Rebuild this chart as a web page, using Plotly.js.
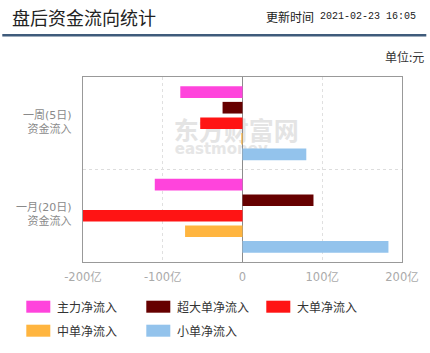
<!DOCTYPE html>
<html>
<head>
<meta charset="utf-8">
<script src="https://cdn.plot.ly/plotly-3.0.1.min.js"></script>
<style>html,body{margin:0;padding:0;background:#fff;}#chart{width:430px;height:353px;}</style>
</head>
<body>
<div id="chart"></div>
<script>
// ---- data ----
var categories = ["一周(5日)", "一月(20日)"];
var categorySub = ["资金流入", "资金流入"];
var seriesNames = ["主力净流入", "超大单净流入", "大单净流入", "中单净流入", "小单净流入"];
var seriesColors = ["#ff44dc", "#660000", "#ff1414", "#ffb53f", "#93c3ec"];
var mainNet   = [-78, -110];
var superNet  = [-25, 89];
var largeNet  = [-53, -200];
var mediumNet = [-1.5, -72];
var smallNet  = [80, 183];
var xTickVals = [-200, -100, 0, 100, 200];
var xTickText = ["-200亿", "-100亿", "0", "100亿", "200亿"];
var titleText = "盘后资金流向统计";
var updateLabel = "更新时间";
var updateTime = "2021-02-23 16:05";
var unitText = "单位:元";
var watermarkCn = "东方财富网";
var watermarkEn = "eastmoney";

var seriesValues = [mainNet, superNet, largeNet, mediumNet, smallNet];

// ---- layout helpers (pixel -> paper) ----
var L = 82.7, R = 401.7, T = 77.3, B = 262.3;
function px(x){ return (x - L) / (R - L); }
function py(y){ return (B - y) / (B - T); }

var traces = seriesNames.map(function(n, i){
  return {
    type: 'bar', orientation: 'h', name: n,
    y: categories, x: seriesValues[i],
    marker: {color: seriesColors[i], line: {width: 0}},
    hoverinfo: 'x+name', showlegend: false
  };
});

var cjk = "'Noto Sans CJK SC', sans-serif";
var mixed = "'DejaVu Sans', 'Noto Sans CJK SC', sans-serif";

var annotations = [
  {text: titleText, xref:'paper', yref:'paper', x: px(10), y: py(17), xanchor:'left', yanchor:'middle', showarrow:false, font:{family:cjk, size:18, color:'#222'}},
  {text: updateLabel, xref:'paper', yref:'paper', x: px(264), y: py(17), xanchor:'left', yanchor:'middle', showarrow:false, font:{family:cjk, size:12, color:'#222'}},
  {text: updateTime, xref:'paper', yref:'paper', x: px(318), y: py(17), xanchor:'left', yanchor:'middle', showarrow:false, font:{family:"'Liberation Mono', monospace", size:10, color:'#222'}},
  {text: unitText, xref:'paper', yref:'paper', x: px(426), y: py(57), xanchor:'right', yanchor:'middle', showarrow:false, font:{family:cjk, size:12, color:'#333'}}
];
categories.forEach(function(c, i){
  annotations.push({text: c + '<br>' + categorySub[i], xref:'paper', yref:'y', x: px(74), y: c, yshift: 1, xanchor:'right', yanchor:'middle', align:'right', showarrow:false, font:{family:mixed, size:11, color:'#8a8a8a'}});
});

var shapes = [
  {type:'line', xref:'paper', yref:'paper', x0: px(2), x1: px(426), y0: py(35.5), y1: py(35.5), line:{color:'#3f5b7b', width:2.5}},
  {type:'line', xref:'paper', yref:'y', x0: 0, x1: 1, y0: 0.5, y1: 0.5, layer:'below', line:{color:'#dddddd', width:1, dash:'dot'}},
  {type:'rect', xref:'x', yref:'paper', x0: (172-241.3)/0.7975, x1: (298-241.3)/0.7975, y0: py(146), y1: py(120), layer:'below', line:{width:0}, fillcolor:'rgba(0,0,0,0)',
    label:{text: watermarkCn, textposition:'middle center', font:{family:cjk, size:25, color:'#e4e4e4', weight:'bold'}}},
  {type:'rect', xref:'x', yref:'paper', x0: (172-241.3)/0.7975, x1: (268-241.3)/0.7975, y0: py(156), y1: py(140), layer:'below', line:{width:0}, fillcolor:'rgba(0,0,0,0)',
    label:{text: watermarkEn, textposition:'middle center', font:{family:"'DejaVu Sans', sans-serif", size:15, color:'#e6e6e6', weight:'bold'}}}
];

// custom legend
var colX = [26, 146, 266];
var rowY = [307, 331];
seriesNames.forEach(function(n, i){
  var cx = colX[i % 3], cy = rowY[Math.floor(i / 3)];
  shapes.push({type:'rect', xref:'paper', yref:'paper', x0: px(cx), x1: px(cx + 24), y0: py(cy + 6), y1: py(cy - 6), line:{width:0}, fillcolor: seriesColors[i]});
  annotations.push({text: n, xref:'paper', yref:'paper', x: px(cx + 29), y: py(cy), xanchor:'left', yanchor:'middle', showarrow:false, font:{family:cjk, size:12, color:'#333'}});
});

var layout = {
  width: 430, height: 353,
  margin: {l: L, r: 430 - R, t: T, b: 353 - B, pad: 0},
  paper_bgcolor: '#fff', plot_bgcolor: 'rgba(0,0,0,0)',
  barmode: 'group', bargap: 0.16, bargroupgap: 0.25,
  showlegend: false,
  xaxis: {range: [-200, 200], tickvals: xTickVals, ticktext: xTickText, showgrid: true, gridcolor: '#e0e0e0', griddash: 'dot',
          zeroline: true, zerolinecolor: '#8c8c8c', zerolinewidth: 1, showline: true, linecolor: '#999', mirror: true,
          ticks: 'outside', ticklen: 4, tickcolor: 'rgba(0,0,0,0)', tickfont: {family: mixed, size: 11.5, color: '#aaa'}, fixedrange: true},
  yaxis: {type: 'category', categoryarray: categories, autorange: 'reversed', showticklabels: false, showgrid: false,
          zeroline: false, showline: true, linecolor: '#999', mirror: true, ticks: '', fixedrange: true},
  annotations: annotations,
  shapes: shapes
};

Plotly.newPlot('chart', traces, layout, {displayModeBar: false, staticPlot: true});
</script>
</body>
</html>
